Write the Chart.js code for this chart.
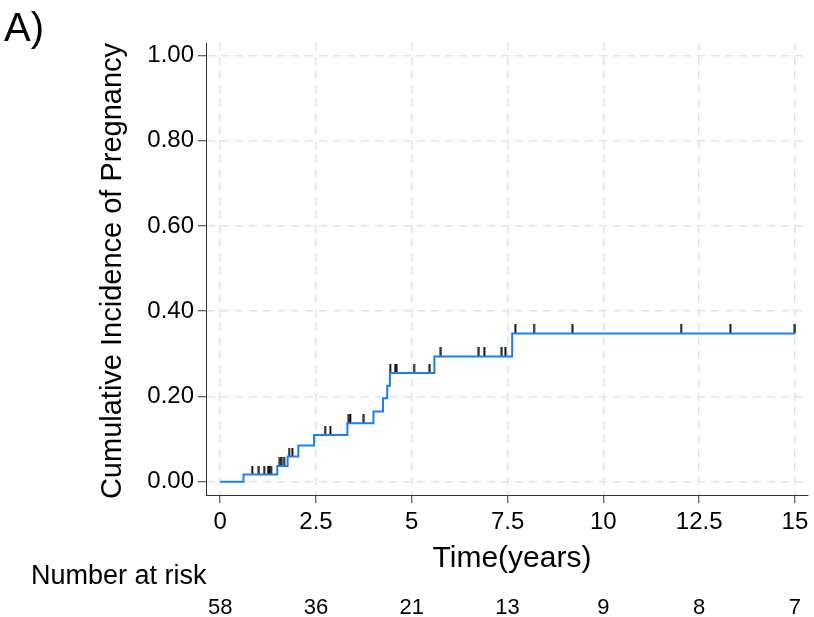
<!DOCTYPE html>
<html>
<head>
<meta charset="utf-8">
<script src="https://cdn.jsdelivr.net/npm/chart.js@4.4.1/dist/chart.umd.min.js"></script>
<style>
  html, body { margin: 0; padding: 0; background: #fff; }
  #wrap { width: 814px; height: 617px; }
</style>
</head>
<body>
<div id="wrap"><canvas id="km" width="814" height="617"></canvas></div>
<script>
// curva de incidencia acumulada (degraus)
const stepTimes = [0, 0.61, 1.49, 1.76, 2.04, 2.45, 3.32, 4.00, 4.25, 4.36, 4.43, 5.59, 7.62, 15];
const cumInc    = [0, 0.017, 0.037, 0.059, 0.085, 0.110, 0.137, 0.165, 0.196, 0.225, 0.255, 0.294, 0.348, 0.348];

// censuras
const censorTimes = [0.84, 1.01, 1.15, 1.25, 1.29, 1.33, 1.56, 1.61, 1.67, 1.80, 1.89,
  2.74, 2.88, 3.36, 3.40, 3.75, 4.44, 4.57, 4.61, 5.06, 5.47, 5.76, 6.75, 6.90,
  7.35, 7.45, 7.71, 8.19, 9.20, 12.03, 13.32, 15];

// numero em risco
const riskTimes = [0, 2.5, 5, 7.5, 10, 12.5, 15];
const riskCounts = [58, 36, 21, 13, 9, 8, 7];

const xTicks = [0, 2.5, 5, 7.5, 10, 12.5, 15];
const yTicks = [0, 0.2, 0.4, 0.6, 0.8, 1.0];

const FONT = '"Liberation Sans", Arial, Helvetica, sans-serif';

function valueAt(t) {
  let v = cumInc[0];
  for (let i = 0; i < stepTimes.length; i++) {
    if (stepTimes[i] <= t) v = cumInc[i];
  }
  return v;
}

// marca vertical acima do ponto (metade de baixo transparente)
const tick = document.createElement("canvas");
tick.width = 3;
tick.height = 18;
const tctx = tick.getContext("2d");
tctx.fillStyle = "#000";
tctx.fillRect(0.5, 0, 1.8, 9);

const textPlugin = {
  id: "textos",
  afterDraw(chart) {
    const ctx = chart.ctx;
    const area = chart.chartArea;
    const xs = chart.scales.x;
    ctx.save();
    ctx.fillStyle = "#000";
    ctx.textBaseline = "alphabetic";

    ctx.font = "40px " + FONT;
    ctx.textAlign = "left";
    ctx.fillText("A)", 4, 41);

    ctx.font = "30px " + FONT;
    ctx.textAlign = "center";
    ctx.fillText("Time(years)", (area.left + area.right) / 2 + 5, 567);

    ctx.save();
    ctx.translate(121, (area.top + area.bottom) / 2 + 2);
    ctx.rotate(-Math.PI / 2);
    ctx.font = "29px " + FONT;
    ctx.textAlign = "center";
    ctx.fillText("Cumulative Incidence of Pregnancy", 0, 0);
    ctx.restore();

    ctx.font = "27px " + FONT;
    ctx.textAlign = "left";
    ctx.fillText("Number at risk", 31, 584);

    ctx.font = "22px " + FONT;
    ctx.textAlign = "center";
    riskTimes.forEach((t, i) => {
      ctx.fillText(String(riskCounts[i]), xs.getPixelForValue(t), 614);
    });
    ctx.restore();
  },
};

const gridOpts = {
  color: "#e3e3e3",
  lineWidth: 1.5,
  tickLength: 8,
  tickColor: "#333",
  tickWidth: 1,
};

new Chart(document.getElementById("km").getContext("2d"), {
  type: "line",
  data: {
    datasets: [
      {
        label: "Incidência",
        data: stepTimes.map((t, i) => ({ x: t, y: cumInc[i] })),
        stepped: "before",
        borderColor: "#1a7ef2",
        borderWidth: 2,
        pointRadius: 0,
        fill: false,
      },
      {
        type: "scatter",
        label: "Censura",
        data: censorTimes.map((t) => ({ x: t, y: valueAt(t) })),
        pointStyle: tick,
        pointRadius: 5,
        showLine: false,
        clip: false,
      },
    ],
  },
  options: {
    responsive: false,
    animation: false,
    devicePixelRatio: 1,
    layout: { padding: { top: 43, right: 4, left: 0, bottom: 0 } },
    plugins: {
      legend: { display: false },
      tooltip: { enabled: false },
    },
    scales: {
      x: {
        type: "linear",
        min: -0.37,
        max: 15.34,
        afterBuildTicks: (s) => { s.ticks = xTicks.map((v) => ({ value: v })); },
        afterFit: (s) => { s.height = 122; },
        ticks: {
          color: "#000",
          font: { family: FONT, size: 24 },
          padding: 5,
          maxRotation: 0,
          callback: (v) => String(v),
        },
        grid: gridOpts,
        border: { display: true, color: "#333", width: 1, dash: [8, 6] },
      },
      y: {
        type: "linear",
        min: -0.031,
        max: 1.029,
        afterBuildTicks: (s) => { s.ticks = yTicks.map((v) => ({ value: v })); },
        afterFit: (s) => { s.width = 206; },
        ticks: {
          color: "#000",
          font: { family: FONT, size: 24 },
          padding: 4,
          callback: (v) => Number(v).toFixed(2),
        },
        grid: gridOpts,
        border: { display: true, color: "#333", width: 1, dash: [8, 6] },
      },
    },
  },
  plugins: [textPlugin],
});
</script>
</body>
</html>
